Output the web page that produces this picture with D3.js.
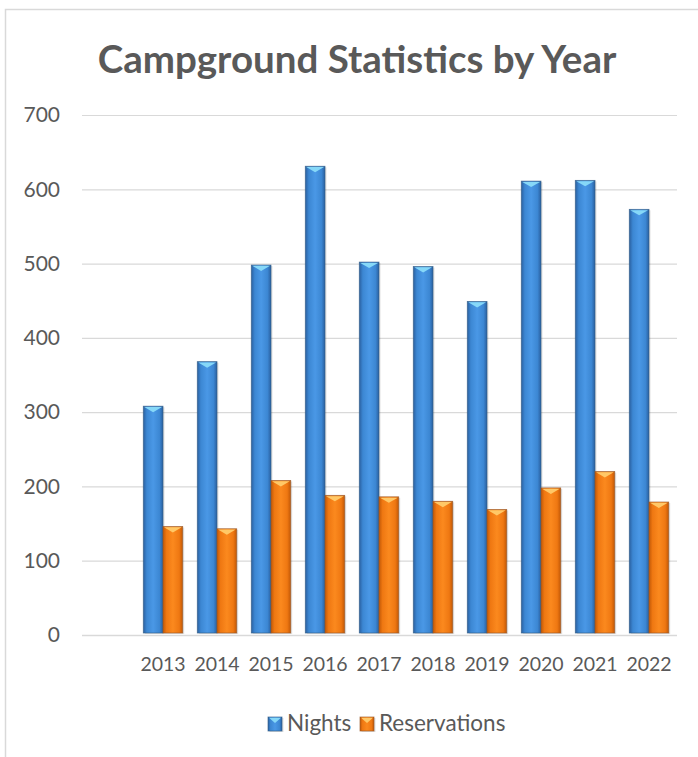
<!DOCTYPE html>
<html>
<head>
<meta charset="utf-8">
<script src="https://cdn.jsdelivr.net/npm/d3@7"></script>
<style>
  html, body { margin: 0; padding: 0; background: #fff; overflow: hidden; }
  svg { display: block; }
  text { font-family: Lato, "Open Sans", sans-serif; fill: #595959; }
</style>
</head>
<body>
<svg id="chart" width="698" height="757"></svg>
<script>
const categories = ["", "2013", "2014", "2015", "2016", "2017", "2018", "2019", "2020", "2021", "2022"];
const nights = [null, 308, 368, 498, 631, 502, 496, 449, 611, 612, 573];
const reservations = [null, 146, 143, 208, 188, 186, 180, 169, 198, 220, 179];
const seriesNames = ["Nights", "Reservations"];
const yTicks = [0, 100, 200, 300, 400, 500, 600, 700];
const titleText = "Campground Statistics by Year";

const svg = d3.select("#chart");
const plot = { left: 82, right: 676, top: 115, bottom: 635 };

// chart border (extends beyond right/bottom edge like the reference)
svg.append("rect").attr("x", 5.5).attr("y", 9.5).attr("width", 720).attr("height", 780)
  .attr("fill", "#fff").attr("stroke", "#d9d9d9").attr("stroke-width", 1.5);

const defs = svg.append("defs");
const palettes = {
  Nights: { edge: "#2a60a0", mid: "#3c87d3", light: "#4a98e6", tip: "#86d8f8", stroke: "#355f88" },
  Reservations: { edge: "#c25806", mid: "#ef7812", light: "#fb891e", tip: "#ffc867", stroke: "#9a5a2a" }
};
seriesNames.forEach((s, i) => {
  const p = palettes[s];
  const g = defs.append("linearGradient").attr("id", "grad" + i).attr("x1", "0").attr("x2", "1").attr("y1", "0").attr("y2", "0");
  [[0, p.edge], [0.18, p.mid], [0.5, p.light], [0.82, p.mid], [1, p.edge]].forEach(([o, c]) =>
    g.append("stop").attr("offset", o).attr("stop-color", c));
});

const x0 = d3.scaleBand().domain(categories).range([plot.left, plot.right]).paddingInner(0).paddingOuter(0);
const x1 = d3.scaleBand().domain(seriesNames).range([0, x0.bandwidth()]).paddingInner(0).paddingOuter(0.37);
const y = d3.scaleLinear().domain([0, 700]).range([plot.bottom, plot.top]);

// gridlines
const grid = svg.append("g").attr("transform", `translate(${plot.left},0)`)
  .call(d3.axisLeft(y).tickValues(yTicks).tickSize(-(plot.right - plot.left + 1)).tickFormat(""));
grid.select(".domain").remove();
grid.selectAll("line").attr("stroke", "#d9d9d9").attr("stroke-width", 1.2);

// y labels
const yAxis = svg.append("g").attr("transform", `translate(60,0)`)
  .call(d3.axisLeft(y).tickValues(yTicks).tickSize(0).tickPadding(0));
yAxis.select(".domain").remove();
yAxis.selectAll("text").attr("font-size", 21).attr("fill", "#595959")
  .style("font-family", "Lato, sans-serif");

// x labels
const xAxis = svg.append("g").attr("transform", `translate(0,${plot.bottom})`)
  .call(d3.axisBottom(x0).tickSize(0).tickPadding(22));
xAxis.select(".domain").remove();
xAxis.selectAll("text").attr("font-size", 19.5).attr("fill", "#595959")
  .style("font-family", "Lato, sans-serif");

// bars
const seriesData = { Nights: nights, Reservations: reservations };
function drawBar(g, bx, by, bw, bh, idx) {
  const p = palettes[seriesNames[idx]];
  g.append("rect").attr("x", bx + 1.5).attr("y", by + 1).attr("width", bw).attr("height", bh)
    .attr("fill", "#000").attr("opacity", 0.12);
  g.append("rect").attr("x", bx).attr("y", by).attr("width", bw).attr("height", bh)
    .attr("fill", `url(#grad${idx})`).attr("stroke", p.stroke).attr("stroke-width", 0.8).attr("stroke-opacity", 0.8);
  const tipH = Math.min(6, bh);
  g.append("path")
    .attr("d", `M${bx + 1},${by + 0.8} L${bx + bw - 1},${by + 0.8} L${bx + bw / 2},${by + tipH} Z`)
    .attr("fill", p.tip);
}
const barsG = svg.append("g");
categories.forEach((c, ci) => {
  seriesNames.forEach((s, si) => {
    const v = seriesData[s][ci];
    if (v == null) return;
    const bx = x0(c) + x1(s);
    const bw = x1.bandwidth();
    const by = y(v);
    drawBar(barsG, bx, by, bw, y(0) - by - 2, si);
  });
});

// baseline
svg.append("line").attr("x1", plot.left).attr("x2", plot.right + 1).attr("y1", y(0) + 0.5).attr("y2", y(0) + 0.5)
  .attr("stroke", "#d9d9d9").attr("stroke-width", 1.5);

// title
svg.append("text").attr("x", 357).attr("y", 73).attr("text-anchor", "middle")
  .attr("font-size", 38.5).attr("font-weight", "bold").attr("fill", "#595959").text(titleText);

// legend
const legendItems = [{ name: "Nights", x: 268 }, { name: "Reservations", x: 360 }];
legendItems.forEach((it) => {
  const idx = seriesNames.indexOf(it.name);
  const lg = svg.append("g");
  drawBar(lg, it.x, 717, 14, 14, idx);
  lg.append("text").attr("x", it.x + 19).attr("y", 731).attr("font-size", 22.5).attr("fill", "#595959").text(it.name);
});
</script>
</body>
</html>
